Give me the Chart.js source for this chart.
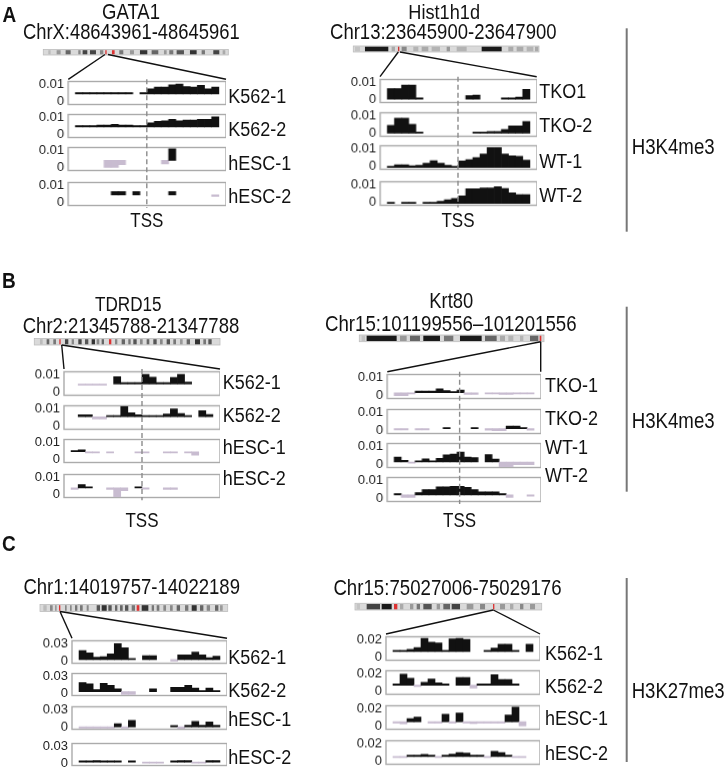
<!DOCTYPE html>
<html lang="en">
<head>
<meta charset="UTF-8">
<title>H3K4me3 / H3K27me3 tracks</title>
<script src="https://cdn.jsdelivr.net/npm/chart.js"></script>
<style>
  body { margin: 0; background: #fff; }
  #fig { position: relative; width: 726px; height: 775px; overflow: hidden; background: #fff;
         font-family: "Liberation Sans", Arial, sans-serif; color: #111; }
  #fig canvas { position: absolute; }
  #ov { position: absolute; left: 0; top: 0; z-index: 2; }
  .t { position: absolute; white-space: nowrap; line-height: 1; z-index: 3; }
</style>
</head>
<body>
<div id="fig"><svg id="ov" width="726" height="775" xmlns="http://www.w3.org/2000/svg"></svg></div>

<script>
// 22 bins across each window (first and last are usually empty)
const bins = ['b0','b1','b2','b3','b4','b5','b6','b7','b8','b9','b10',
              'b11','b12','b13','b14','b15','b16','b17','b18','b19','b20','b21'];

const humanSamples = ['K562-1', 'K562-2', 'hESC-1', 'hESC-2'];
const hist1Samples = ['TKO1', 'TKO-2', 'WT-1', 'WT-2'];
const krt80Samples = ['TKO-1', 'TKO-2', 'WT-1', 'WT-2'];

// A: GATA1 (human), H3K4me3
const gata1K562r1 = [null,.0050,.0050,.0050,.0050,.0050,.0050,.0050,.0050,null,.0050,.0073,.0084,.0084,.0096,.0101,.0086,.0084,.0093,.0073,.0084,null];
const gata1K562r2 = [null,.0049,.0050,.0052,.0055,.0055,.0060,.0055,.0055,.0052,.0050,.0068,.0076,.0079,.0087,.0079,.0084,.0084,.0087,.0087,.0102,null];
const gata1HescR1 = [null,null,null,null,null,.0003,.0003,.0018,null,null,null,null,null,.0022,.0107,null,null,null,null,null,null,null];
const gata1HescR2 = [null,null,null,null,null,null,.0063,.0063,null,.0063,null,null,null,null,.0063,null,null,null,null,null,.0037,null];
const gata1Bases = [.0045, .0045, .0042, .0045];

// A: Hist1h1d (mouse), H3K4me3
const hist1Tko1 = [null,.0063,.0063,.0083,.0083,.0008,null,null,null,null,null,null,.0024,.0027,null,null,null,.0007,.0007,.0015,.0059,null];
const hist1Tko2 = [null,.0046,.0085,.0085,.0051,.0006,null,null,null,null,null,null,null,.0008,.0005,.0011,.0011,.0023,.0042,.0042,.0066,null];
const hist1Wt1  = [null,.0000,.0010,.0010,.0004,.0007,.0018,.0033,.0018,.0007,-.0001,.0031,.0038,.0050,.0069,.0105,.0105,.0069,.0060,.0057,.0036,null];
const hist1Wt2  = [null,-.0001,null,-.0001,-.0001,null,-.0001,-.0001,.0007,.0015,.0022,.0037,.0077,.0077,.0081,.0081,.0088,.0078,.0054,.0044,.0044,null];
const hist1Bases = [.0004, .0002, -.0005, -.0005];

// B: TDRD15 (human), H3K4me3
const tdrdK562r1 = [null,null,.0041,.0041,.0041,.0041,null,.0088,.0055,.0055,.0055,.0100,.0085,.0055,.0055,.0083,.0100,.0058,null,null,null,null];
const tdrdK562r2 = [null,null,.0065,.0065,.0042,.0042,.0061,.0061,.0110,.0077,.0065,.0061,.0058,.0058,.0069,.0097,.0072,.0061,null,.0087,.0066,null];
const tdrdHescR1 = [null,.0051,.0057,.0040,.0040,null,.0040,null,null,null,.0040,.0040,null,null,.0040,.0040,null,.0040,.0026,null,null,null];
const tdrdHescR2 = [null,.0031,.0058,.0043,null,null,.0031,-.0012,.0023,null,.0043,.0034,null,null,.0031,.0031,null,null,null,null,null,null];
const tdrdBases = [.0047, .0054, .0046, .0039];

// B: Krt80 (mouse), H3K4me3
const krt80Tko1 = [null,.0001,.0001,.0010,.0025,.0025,.0025,.0038,.0028,.0020,.0031,.0007,.0007,null,.0012,.0012,.0007,.0007,.0012,.0012,.0012,null];
const krt80Tko2 = [null,.0008,.0008,null,.0008,.0008,null,null,.0014,null,null,null,.0017,null,.0003,.0000,.0000,.0025,.0025,.0014,.0003,null];
const krt80Wt1  = [null,.0042,.0024,.0009,.0018,.0032,.0018,.0035,.0053,.0058,.0068,.0042,.0039,null,.0055,.0030,-.0010,-.0010,.0000,.0000,.0000,null];
const krt80Wt2  = [null,.0025,.0007,.0007,.0033,.0050,.0050,.0064,.0064,.0067,.0067,.0062,.0050,.0038,.0038,.0038,.0024,.0007,null,null,.0016,null];
const krt80Bases = [.0016, .0011, .0015, .0021];

// C: Chr1 region (human), H3K27me3
const chr1K562r1 = [null,.0174,.0135,.0062,.0067,.0116,.0296,.0223,.0038,null,.0087,.0087,null,null,-.0006,.0101,.0101,.0150,.0101,.0053,.0077,null];
const chr1K562r2 = [null,.0184,.0160,.0062,.0170,.0135,.0072,-.0026,-.0026,null,null,.0072,null,null,.0101,.0101,.0135,.0087,.0038,.0087,.0038,null];
const chr1HescR1 = [null,-.0015,-.0015,-.0015,-.0015,-.0015,.0049,-.0015,.0110,null,null,null,null,null,.0009,-.0031,.0025,.0091,.0025,.0082,.0025,null];
const chr1HescR2 = [null,.0024,.0024,.0044,.0035,.0035,.0024,null,.0030,null,.0010,.0010,.0010,null,.0024,.0044,.0044,.0010,.0010,.0044,.0044,null];
const chr1Bases = [.0018, .0023, -.0003, .0016];

// C: Chr15 region (human), H3K27me3
const chr15K562r1 = [null,.0076,.0076,.0091,.0109,.0212,.0170,.0160,.0073,.0206,.0212,.0200,null,null,.0076,.0106,.0146,.0146,.0076,null,.0146,null];
const chr15K562r2 = [null,.0086,.0193,.0147,.0056,.0102,.0138,.0095,.0083,null,.0157,.0157,.0040,.0083,.0083,.0187,.0132,.0132,.0080,null,null,null];
const chr15HescR1 = [null,.0048,.0029,.0088,.0106,null,.0048,.0048,.0135,.0048,.0150,.0048,.0032,.0048,.0048,.0048,.0048,.0127,.0215,.0008,null,null];
const chr15HescR2 = [null,.0052,.0052,.0062,.0062,.0080,.0062,.0052,.0071,.0083,.0100,.0094,.0062,.0062,.0052,.0112,.0100,.0062,.0052,.0052,null,null];
const chr15Bases = [.0067, .0071, .0053, .0057];

const BLACK = '#111111';
const LAV = '#c8bcd0';
const FONT = '"Liberation Sans", Arial, sans-serif';
const AXW = 36;   // room for the y tick labels
const PAD = 8;

const fig = document.getElementById('fig');
const ov = document.getElementById('ov');
const SVGNS = 'http://www.w3.org/2000/svg';

function svg(tag, attrs) {
  const el = document.createElementNS(SVGNS, tag);
  for (const k in attrs) el.setAttribute(k, attrs[k]);
  ov.appendChild(el);
  return el;
}

const measureCtx = document.createElement('canvas').getContext('2d');
function fitSize(str, w, bold) {
  measureCtx.font = (bold ? 'bold ' : '') + '100px ' + FONT;
  return 100 * w / measureCtx.measureText(str).width;
}

// text with its cap-centre at cy; the figure's lettering is a little tall
function text(str, x, cy, o) {
  o = o || {};
  const size = o.fit ? fitSize(str, o.fit, o.bold) : (o.size || 18);
  const d = document.createElement('div');
  d.className = 't';
  d.textContent = str;
  d.style.fontSize = size + 'px';
  if (o.bold) d.style.fontWeight = 'bold';
  d.style.left = x + 'px';
  d.style.top = (cy - 0.5 * size) + 'px';
  d.style.transform = (o.center ? 'translateX(-50%) ' : '') + 'scaleY(1.15)';
  fig.appendChild(d);
}

// grey frame round each track
const framePlugin = {
  id: 'frame',
  beforeDatasetsDraw(chart) {
    const a = chart.chartArea, c = chart.ctx;
    c.save();
    c.strokeStyle = '#ababab';
    c.lineWidth = 1.4;
    c.strokeRect(a.left, a.top, a.right - a.left, a.bottom - a.top);
    c.restore();
  }
};

const groups = [
  { left: 68.3, right: 226, tops: [79.3, 112.3, 145, 180], h: 28, yMax: 0.01, tss: 11,
    series: [gata1K562r1, gata1K562r2, gata1HescR1, gata1HescR2], bases: gata1Bases,
    names: humanSamples, labelX: 228.3, labelY: [95.7, 129, 162.5, 195.5], tssLabelY: 220.8 },
  { left: 380, right: 536.7, tops: [76.7, 110, 143.3, 179], h: 28.5, yMax: 0.01, tss: 11,
    series: [hist1Tko1, hist1Tko2, hist1Wt1, hist1Wt2], bases: hist1Bases,
    names: hist1Samples, labelX: 539.3, labelY: [90.8, 125, 160.8, 195], tssLabelY: 220.8 },
  { left: 64, right: 220, tops: [369, 403.3, 436.7, 471.7], h: 28.5, yMax: 0.01, tss: 11,
    series: [tdrdK562r1, tdrdK562r2, tdrdHescR1, tdrdHescR2], bases: tdrdBases,
    names: humanSamples, labelX: 222.7, labelY: [381.7, 415, 446.7, 478.3], tssLabelY: 520 },
  { left: 387.3, right: 540.7, tops: [371.7, 406.7, 440.7, 475], h: 29, yMax: 0.01, tss: 10.4,
    series: [krt80Tko1, krt80Tko2, krt80Wt1, krt80Wt2], bases: krt80Bases,
    names: krt80Samples, labelX: 545, labelY: [385, 418.3, 446.7, 475], tssLabelY: 520 },
  { left: 72, right: 227, tops: [638.3, 670.7, 704, 740.7], h: 27.5, yMax: 0.03, tss: null,
    series: [chr1K562r1, chr1K562r2, chr1HescR1, chr1HescR2], bases: chr1Bases,
    names: humanSamples, labelX: 228.3, labelY: [656.7, 690, 719, 756.7] },
  { left: 386, right: 540, tops: [634, 668, 703.3, 738.3], h: 28.5, yMax: 0.02, tss: null,
    series: [chr15K562r1, chr15K562r2, chr15HescR1, chr15HescR2], bases: chr15Bases,
    names: humanSamples, labelX: 545, labelY: [653.3, 686, 717.5, 752.5] }
];

function makeTrack(g, k) {
  const cv = document.createElement('canvas');
  const w = AXW + (g.right - g.left), hh = g.h + 2 * PAD;
  cv.width = w; cv.height = hh;
  cv.style.left = (g.left - AXW) + 'px';
  cv.style.top = (g.tops[k] - PAD) + 'px';
  cv.style.width = w + 'px'; cv.style.height = hh + 'px';
  fig.appendChild(cv);
  const base = g.bases[k];
  return new Chart(cv, {
    type: 'bar',
    data: {
      labels: bins,
      datasets: [{
        data: g.series[k],
        base: base,
        backgroundColor: ctx => (ctx.raw >= base ? BLACK : LAV),
        borderWidth: 0,
        barPercentage: 1,
        categoryPercentage: 1,
        minBarLength: 1.2
      }]
    },
    options: {
      responsive: false,
      animation: false,
      events: [],
      layout: { padding: { top: PAD, bottom: PAD, left: 0, right: 0 } },
      plugins: { legend: { display: false }, tooltip: { enabled: false } },
      scales: {
        x: { display: false },
        y: {
          min: -0.15 * g.yMax,
          max: 1.15 * g.yMax,
          afterFit: s => { s.width = AXW; },
          afterBuildTicks: s => { s.ticks = [{ value: 0 }, { value: g.yMax }]; },
          ticks: {
            callback: v => (v === 0 ? '0' : String(g.yMax)),
            font: { size: 13, family: FONT, lineHeight: 1 },
            color: '#222',
            padding: 4
          },
          grid: { display: false, drawTicks: false },
          border: { display: false }
        }
      }
    },
    plugins: [framePlugin]
  });
}

groups.forEach(g => {
  const charts = g.series.map((s, k) => makeTrack(g, k));
  g.names.forEach((n, k) => text(n, g.labelX, g.labelY[k], { size: 18 }));
  if (g.tss !== null) {
    const c0 = charts[0];
    const x = (g.left - AXW) + c0.scales.x.getPixelForValue(g.tss - 0.5);
    svg('line', { x1: x, y1: g.tops[0], x2: x, y2: g.tops[3] + g.h,
                  stroke: '#8c8c8c', 'stroke-width': 1.4, 'stroke-dasharray': '5 3' });
    text('TSS', x, g.tssLabelY, { size: 17, center: true });
  }
});

// chromosome ideograms (decoration): [x, y, w, h, zoomOrigin, zoomWidth, bands]
const ideograms = [
  [43.3, 49.5, 185, 5.5, 130, 555, [[145,152,'#bbb'],[170,182,'#999'],[197,212,'#666'],[235,242,'#888'],[248,262,'#444'],[270,288,'#444'],[300,310,'#888'],[316,320,'#d33'],[336,344,'#d33'],[358,370,'#777'],[390,402,'#999'],[420,442,'#333'],[455,475,'#666'],[492,500,'#999'],[508,520,'#777'],[530,552,'#555'],[570,590,'#333'],[605,615,'#777'],[640,658,'#444'],[668,676,'#aaa']]],
  [353.3, 46, 185.7, 6, 160, 557, [[165,180,'#c4c4c4'],[195,265,'#1a1a1a'],[275,285,'#aaa'],[294,298,'#c33'],[305,320,'#888'],[340,355,'#b4b4b4'],[365,385,'#aaa'],[395,420,'#b4b4b4'],[440,450,'#999'],[470,500,'#b4b4b4'],[545,605,'#1a1a1a'],[625,640,'#aaa'],[650,670,'#aaa'],[680,700,'#b4b4b4'],[705,715,'#aaa']]],
  [34.3, 338.5, 185.7, 6.5, 103, 557, [[120,128,'#bbb'],[140,148,'#666'],[160,168,'#777'],[178,182,'#d33'],[195,205,'#444'],[215,222,'#888'],[235,245,'#444'],[255,265,'#555'],[275,285,'#333'],[290,298,'#888'],[305,312,'#666'],[327,334,'#d33'],[345,352,'#888'],[365,375,'#666'],[385,392,'#777'],[400,410,'#555'],[420,428,'#888'],[440,448,'#666'],[460,470,'#555'],[480,488,'#888'],[500,510,'#555'],[520,528,'#777'],[540,548,'#999'],[560,570,'#666'],[585,600,'#333'],[610,618,'#777'],[625,635,'#555']]],
  [359.3, 335, 184.7, 6.7, 178, 554, [[185,195,'#c4c4c4'],[200,290,'#1a1a1a'],[300,320,'#999'],[330,360,'#666'],[370,420,'#1a1a1a'],[432,460,'#777'],[480,545,'#1a1a1a'],[555,590,'#666'],[600,615,'#aaa'],[625,640,'#b4b4b4'],[660,670,'#b4b4b4'],[690,715,'#666'],[719,724,'#d33']]],
  [40, 604.5, 187.7, 7, 120, 563, [[130,140,'#bbb'],[150,158,'#888'],[165,170,'#999'],[177,181,'#d33'],[195,200,'#888'],[210,215,'#888'],[225,232,'#777'],[240,248,'#777'],[260,266,'#888'],[290,300,'#555'],[305,320,'#333'],[325,335,'#555'],[345,352,'#666'],[360,368,'#666'],[375,385,'#555'],[395,405,'#777'],[410,418,'#d33'],[425,445,'#333'],[455,462,'#777'],[470,478,'#777'],[490,498,'#888'],[510,518,'#888'],[530,540,'#666'],[555,565,'#777'],[575,590,'#333'],[600,610,'#666'],[620,630,'#888'],[645,655,'#666'],[660,668,'#999']]],
  [355, 603.3, 186.7, 6.7, 165, 560, [[170,180,'#c4c4c4'],[200,240,'#444'],[245,275,'#1a1a1a'],[282,292,'#d33'],[300,310,'#aaa'],[330,340,'#999'],[350,360,'#777'],[370,395,'#555'],[410,420,'#999'],[430,450,'#666'],[455,480,'#444'],[500,520,'#999'],[540,555,'#888'],[579,583,'#d33'],[600,615,'#999'],[630,640,'#aaa'],[660,670,'#888'],[690,705,'#999']]]
];

ideograms.forEach(([x, y, w, h, z0, zw, bands]) => {
  svg('rect', { x: x, y: y, width: w, height: h, fill: '#dadada', stroke: '#bdbdbd', 'stroke-width': 0.8 });
  bands.forEach(([a, b, col]) => {
    svg('rect', { x: x + w * (a - z0) / zw, y: y + 0.7, width: w * (b - a) / zw, height: h - 1.4, fill: col });
  });
});

// zoom-out lines from the ideogram to the track frames
const zoomLines = [
  [105, 54.5, 68.3, 79.3], [108, 54.5, 226, 79.3],
  [398.3, 52, 380, 76.7], [400, 52, 536.7, 76.7],
  [61.7, 345, 64, 369], [61.7, 345, 220, 369],
  [540.7, 341.7, 387.3, 371.7], [540.7, 341.7, 540.7, 371.7],
  [60, 611.5, 72, 638.3], [60, 611.5, 227, 638.3],
  [493.3, 610, 386, 634], [493.3, 610, 540, 634]
];
zoomLines.forEach(([x1, y1, x2, y2]) => svg('line', { x1, y1, x2, y2, stroke: '#111', 'stroke-width': 1.4 }));

// mark dividers
[[28.3, 231.7], [306.7, 491.7], [578, 762]].forEach(([y1, y2]) =>
  svg('line', { x1: 626.7, y1, x2: 626.7, y2, stroke: '#777', 'stroke-width': 2 }));

// headings
text('A', 2.5, 14.5, { size: 19, bold: true });
text('B', 2, 280, { size: 19, bold: true });
text('C', 2, 543.5, { size: 19, bold: true });

text('GATA1', 131, 12.3, { fit: 58, center: true });
text('ChrX:48643961-48645961', 131.3, 32.5, { fit: 217, center: true });
text('Hist1h1d', 444.2, 12.3, { fit: 71.7, center: true });
text('Chr13:23645900-23647900', 443.3, 32, { fit: 226.7, center: true });
text('TDRD15', 128.3, 304.5, { fit: 66.7, center: true });
text('Chr2:21345788-21347788', 131, 325.8, { fit: 216.7, center: true });
text('Krt80', 451.3, 300.8, { fit: 44, center: true });
text('Chr15:101199556\u2013101201556', 450.8, 324.2, { fit: 251.7, center: true });
text('Chr1:14019757-14022189', 131.7, 587.5, { fit: 216.7, center: true });
text('Chr15:75027006-75029176', 447.5, 588.3, { fit: 228.3, center: true });

text('H3K4me3', 631.7, 147.7, { fit: 83 });
text('H3K4me3', 631.7, 421.7, { fit: 83 });
text('H3K27me3', 631.7, 691.7, { fit: 93 });
</script>
</body>
</html>
